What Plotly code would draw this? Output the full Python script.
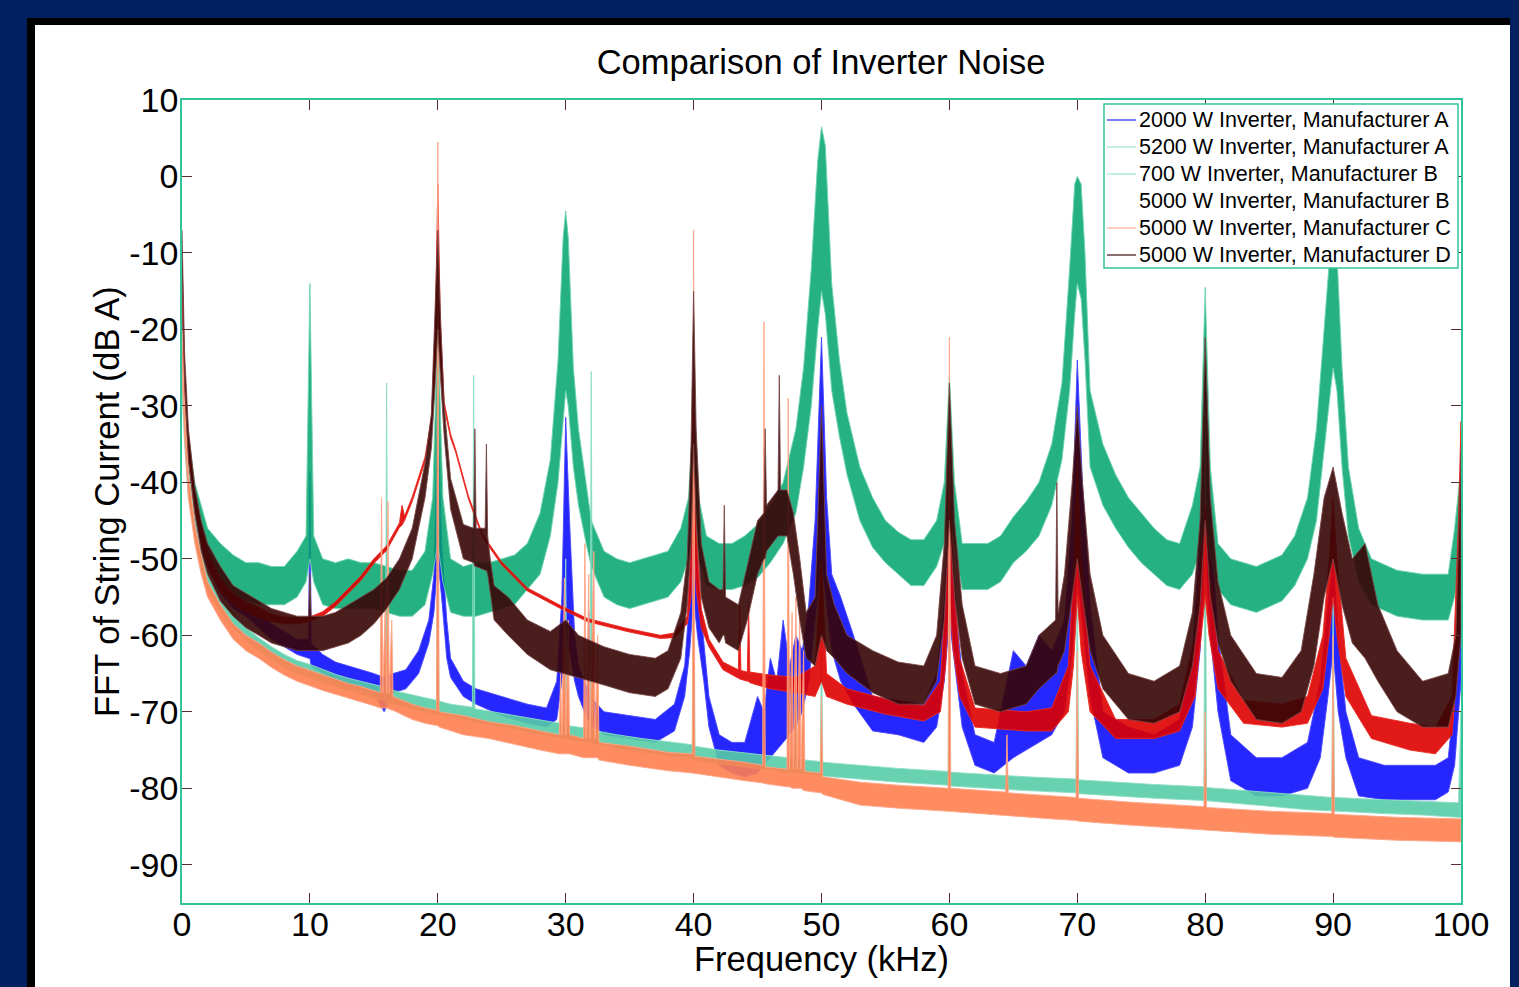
import plotly.graph_objects as go

# ---------------- data ----------------
# each series: (frequency kHz, lower edge of the noise band dB, upper edge dB)
blue_2000A = [
    (0.0, -22, -18), (0.2, -32, -28), (0.5, -39, -36), (1.0, -45, -43), (1.5, -48.5, -46.5),
    (2.0, -51, -49), (3.0, -54.5, -52.5), (4.0, -56.5, -54.5), (5.0, -57.5, -55.5), (6.0, -59, -57),
    (7.0, -60.5, -58.5), (8.0, -61.5, -59.5), (9.0, -62.5, -60.5), (9.9, -63, -60.5), (10.0, -63, -38.5),
    (10.1, -64, -61), (11.0, -65, -62.5), (12.0, -66, -63.5), (13.0, -66.5, -64), (14.0, -67, -64.5),
    (15.0, -67.5, -65), (15.8, -70, -65.5), (16.5, -67.5, -65), (17.5, -67, -64.5), (18.5, -65, -62),
    (19.3, -61, -58), (19.7, -57, -52), (20.0, -50, -31), (20.3, -55, -48), (20.7, -63, -58),
    (21.0, -65.5, -63), (22.0, -68, -66), (23.0, -69, -67), (25.0, -70.5, -68), (27.0, -71.5, -69),
    (28.5, -72, -69.5), (29.3, -71, -66), (29.7, -66, -55), (30.0, -60, -31.5), (30.3, -62, -45),
    (30.7, -66, -60), (31.0, -68, -64), (31.7, -71, -67), (31.8, -71, -57), (31.9, -71.5, -68),
    (33.0, -73, -70), (35.0, -73.5, -70.5), (37.0, -74, -71), (38.5, -72.5, -69), (39.3, -68, -64),
    (39.7, -62, -55), (40.0, -55, -36), (40.3, -60, -52), (40.8, -66, -61), (41.2, -72, -68),
    (42.0, -77, -73), (43.0, -78, -74), (44.0, -78.5, -74), (45.0, -78, -68), (45.5, -77, -70),
    (46.0, -76, -63), (46.5, -75, -66), (47.0, -74, -58), (47.5, -73, -64), (48.0, -72, -60),
    (48.5, -70, -62), (49.0, -66, -56), (49.5, -58, -45), (50.0, -50, -21), (50.4, -56, -42),
    (50.8, -62, -52), (51.5, -66, -55), (52.5, -69, -60), (54.0, -72.5, -68), (56.0, -73, -68.5),
    (58.0, -74, -69), (59.0, -72, -65), (59.6, -66, -56), (60.0, -58, -42), (60.4, -64, -55),
    (61.0, -72, -65), (62.0, -77, -73), (63.5, -78, -74), (65.0, -76, -62), (66.0, -75, -64),
    (67.0, -74, -60), (68.0, -73, -62), (69.0, -70, -58), (69.6, -62, -45), (70.0, -52, -24),
    (70.4, -58, -40), (71.0, -68, -56), (72.0, -76, -70), (74.0, -78, -72), (76.0, -78, -73),
    (78.0, -77, -71), (79.0, -72, -62), (79.6, -62, -48), (80.0, -50, -25), (80.4, -60, -45),
    (81.0, -70, -60), (82.0, -79, -73), (84.0, -81, -76), (86.0, -81, -76), (88.0, -80, -74),
    (89.0, -76, -66), (89.6, -68, -56), (90.0, -62, -50), (90.4, -70, -60), (91.0, -76, -70),
    (92.0, -81, -76), (94.0, -81.5, -77), (96.0, -81.5, -77), (98.0, -81.5, -77), (99.0, -80.5, -76),
    (99.5, -77, -68), (100.0, -66, -56),
]

green_5200A = [
    (0.0, -20, -14), (0.2, -30, -26), (0.5, -39, -34), (1.0, -44, -40), (1.5, -47, -43),
    (2.0, -50, -46), (3.0, -53, -48), (4.0, -54.5, -49.5), (5.0, -55.5, -50.5), (6.0, -56, -50.5),
    (7.0, -56, -51), (8.0, -56, -51), (9.0, -55, -49), (9.7, -53, -47), (10.0, -50, -14),
    (10.3, -53, -47), (11.0, -56, -50), (12.0, -56.5, -50.5), (13.0, -56.5, -50), (14.0, -56.5, -50.5),
    (15.0, -56.5, -50.5), (16.0, -57, -51), (17.0, -57.5, -51.5), (18.0, -57.5, -51.5), (19.0, -56, -49),
    (19.6, -52, -42), (20.0, -48, -19), (20.4, -53, -42), (21.0, -57, -50), (22.0, -57.5, -51),
    (23.0, -57.5, -50.5), (24.0, -57, -50.5), (25.0, -56.5, -50), (26.0, -56, -49.5), (27.0, -54, -48),
    (28.0, -52, -44), (28.8, -47, -37), (29.4, -40, -24), (29.8, -32, -8), (30.0, -28, -4.5),
    (30.2, -30, -8), (30.6, -38, -25), (31.0, -43, -33), (31.6, -48, -40), (32.0, -51, -45),
    (33.0, -55, -49), (34.0, -56, -50), (35.0, -56.5, -50.5), (36.0, -56, -50), (37.0, -55.5, -49.5),
    (38.0, -55, -49), (39.0, -53, -46), (39.6, -50, -42), (40.0, -47, -30), (40.4, -50, -42),
    (41.0, -53.5, -47), (42.0, -54, -48), (43.0, -54, -48), (44.0, -53.5, -47), (45.0, -52.5, -45.5),
    (46.0, -50.5, -43), (47.0, -48, -40), (48.0, -44, -33), (48.6, -38, -25), (49.2, -30, -12),
    (49.7, -20, 2), (50.0, -15, 6.5), (50.3, -18, 4), (50.8, -28, -14), (51.4, -34, -24),
    (52.0, -39, -31), (53.0, -45, -38), (54.0, -48.5, -42), (55.0, -50.5, -45), (56.0, -52, -46.5),
    (57.0, -53.5, -47.5), (58.0, -53.5, -47.5), (59.0, -51, -45), (59.6, -48, -40), (60.0, -44, -26),
    (60.4, -48, -40), (61.0, -54, -48), (62.0, -54, -48), (63.0, -54, -48), (64.0, -53, -47),
    (65.0, -50.5, -44.5), (66.0, -49, -42.5), (67.0, -47, -40), (68.0, -43, -35), (68.8, -37, -27),
    (69.4, -28, -12), (69.8, -18, -1), (70.0, -14, 0), (70.3, -16, -1), (70.6, -24, -10),
    (71.0, -38, -28), (72.0, -43, -35), (73.0, -46, -39), (74.0, -48.5, -42), (75.0, -50.5, -44),
    (76.0, -52, -46), (77.0, -53.5, -47.5), (78.0, -54, -48), (79.0, -52, -43), (79.6, -49, -38),
    (80.0, -45, -14.5), (80.4, -49, -38), (81.0, -54, -48), (82.0, -56, -50), (84.0, -57, -51),
    (86.0, -55.5, -49.5), (87.0, -53.5, -47), (88.0, -50, -42), (88.7, -45, -33), (89.3, -36, -20),
    (89.8, -28, -9), (90.0, -25, -8), (90.3, -28, -10), (90.7, -38, -25), (91.2, -47, -38),
    (92.0, -53, -46), (93.0, -56, -50), (95.0, -57.5, -51.5), (97.0, -58, -52), (99.0, -58, -52),
    (99.5, -55, -46), (100.0, -50, -38),
]

aqua_700B = [
    (0.0, -28, -24), (0.2, -35, -31), (0.5, -42, -38), (1.0, -47, -44.5), (1.5, -51, -48.5),
    (2.0, -54, -52), (3.0, -57, -55), (4.0, -59, -57), (5.0, -60.8, -59), (6.0, -62, -60.3),
    (7.0, -63.2, -61.5), (8.0, -64.2, -62.5), (9.0, -65, -63.3), (10.0, -65.6, -63.8), (11.0, -66.2, -64.5),
    (12.0, -66.8, -65.1), (13.0, -67.3, -65.6), (14.0, -67.7, -66), (15.0, -68.2, -66.4), (15.9, -68.6, -66.8),
    (16.0, -69, -27), (16.1, -68.8, -67), (17.0, -69.2, -67.4), (18.0, -69.6, -67.8), (19.0, -70, -68.2),
    (19.9, -70.3, -68.5), (20.0, -70.4, -50), (20.1, -70.4, -68.6), (21.0, -70.7, -69), (22.7, -71.2, -69.4),
    (22.8, -71.3, -26), (22.9, -71.4, -69.6), (25.0, -72, -70.2), (27.0, -72.6, -70.8), (29.9, -73.5, -71.6),
    (30.0, -73.6, -50), (30.1, -73.7, -71.8), (31.9, -74, -72.2), (32.0, -74.1, -25.5), (32.1, -74.2, -72.4),
    (34.0, -74.7, -73), (36.0, -75.3, -73.5), (39.9, -76.1, -74.3), (40.0, -76.2, -55), (40.1, -76.3, -74.5),
    (42.0, -76.8, -75), (44.0, -77.2, -75.4), (46.0, -77.6, -75.8), (47.9, -78, -76.1), (48.0, -78, -65),
    (48.1, -78, -76.2), (49.9, -78.3, -76.5), (50.0, -78.3, -60), (50.1, -78.4, -76.6), (53.0, -78.8, -77),
    (56.0, -79.2, -77.4), (59.9, -79.6, -77.8), (60.0, -79.6, -50), (60.1, -79.7, -77.9), (63.0, -80, -78.2),
    (66.0, -80.3, -78.5), (69.9, -80.6, -78.8), (70.0, -80.6, -50), (70.1, -80.7, -78.9), (73.0, -81, -79.2),
    (76.0, -81.3, -79.5), (79.9, -81.6, -79.8), (80.0, -81.6, -30), (80.1, -81.7, -79.9), (84.0, -82.2, -80.4),
    (88.0, -82.8, -81), (89.9, -83, -81.2), (90.0, -83, -55), (90.1, -83, -81.2), (94.0, -83.3, -81.5),
    (97.0, -83.5, -81.7), (99.8, -83.8, -81.9), (100.0, -83.8, -70),
]

red_5000B = [
    (0.0, -15, -11), (0.2, -28, -25), (0.5, -37, -34), (1.0, -44, -42), (1.5, -48, -46),
    (2.0, -51, -49), (3.0, -54.3, -52.7), (4.0, -56, -54.5), (5.0, -57, -55.6), (6.0, -57.7, -56.3),
    (7.0, -58.2, -57.2), (8.0, -58.5, -57.6), (9.0, -58.5, -57.7), (10.0, -58.2, -57.6), (11.0, -57.5, -56.9),
    (12.0, -56.2, -55.6), (13.0, -54.5, -53.9), (14.0, -52.8, -52.2), (15.0, -50.6, -50), (16.0, -48.9, -48.3),
    (17.0, -45.9, -45.3), (17.2, -45.6, -43), (17.4, -45, -44.4), (18.0, -42.5, -41.9), (19.0, -37.3, -36.7),
    (19.5, -32.2, -31.6), (19.8, -25, -20), (20.0, -15, -1), (20.2, -24, -19), (20.5, -30.2, -29.5),
    (21.0, -34.2, -33.7), (21.4, -36.1, -35.7), (22.4, -42.2, -41.8), (23.5, -47.2, -46.8), (25.0, -50.8, -50.4),
    (27.0, -54.2, -53.8), (29.6, -56.5, -56.1), (31.7, -58.2, -57.8), (34.8, -59.5, -59.1), (37.4, -60.4, -60),
    (38.5, -60.3, -59.7), (39.5, -58.5, -57.5), (39.8, -55, -48), (40.0, -45, -26), (40.2, -54, -46),
    (40.6, -59, -56.5), (41.2, -61.5, -60.5), (42.3, -64.5, -63.5), (43.5, -65.6, -64.5), (43.6, -65.7, -56),
    (43.7, -65.8, -64.6), (44.2, -66, -64.8), (44.3, -66, -56), (44.4, -66.2, -64.8), (46.0, -67, -65.2),
    (48.0, -67.5, -65.5), (49.5, -68, -64), (50.0, -66, -50), (50.4, -68, -65), (52.0, -69, -67),
    (55.0, -70.3, -68.3), (58.0, -71.2, -69.2), (59.3, -70, -66), (59.7, -64, -55), (60.0, -55, -40),
    (60.3, -62, -52), (60.8, -68, -63), (62.0, -72, -69.5), (66.0, -72.5, -70), (68.0, -72.5, -69.5),
    (69.3, -70, -64), (69.7, -64, -52), (70.0, -55, -36), (70.3, -62, -50), (71.0, -70, -64),
    (73.0, -73.5, -71), (76.0, -73.5, -71), (78.0, -72.5, -69), (79.2, -68, -60), (79.7, -60, -50),
    (80.0, -55, -43), (80.3, -60, -50), (81.0, -67, -62), (83.0, -71.5, -68.5), (86.0, -72, -69),
    (88.0, -71.5, -68), (89.2, -67, -60), (89.7, -60, -50), (90.0, -55, -42), (90.3, -60, -50),
    (91.0, -68, -63), (93.0, -73.5, -70.5), (96.0, -75, -71.5), (98.0, -75.5, -72), (99.3, -73, -68),
    (99.8, -62, -45), (100.0, -50, -32),
]

coral_5000C = [
    (0.0, -25, -20), (0.2, -34, -30), (0.5, -42, -39), (1.0, -48, -45.5), (1.5, -52, -49.5),
    (2.0, -55, -53), (3.0, -58, -56), (4.0, -60.5, -58.5), (5.0, -62, -60), (6.0, -63, -61),
    (7.0, -64.2, -62.2), (8.0, -65.2, -63.2), (9.0, -66, -64), (10.0, -66.6, -64.6), (11.0, -67.2, -65.2),
    (12.0, -67.8, -65.8), (13.0, -68.3, -66.3), (14.0, -68.7, -66.7), (15.0, -69.2, -67.2), (15.5, -69.5, -67.5),
    (15.6, -69.5, -42), (15.7, -69.5, -67.5), (15.9, -69.5, -55), (16.0, -69.5, -67.6), (16.1, -69.6, -42.5),
    (16.2, -69.6, -67.6), (16.4, -69.8, -58), (16.5, -69.8, -68), (18.0, -71, -69), (19.0, -71.5, -69.5),
    (19.9, -71.8, -69.8), (20.0, -71.8, 4.5), (20.1, -72, -70), (22.0, -73, -70.5), (24.0, -73.5, -71.3),
    (26.0, -74.2, -71.8), (28.0, -75, -72.5), (29.5, -75.5, -73), (29.6, -75.5, -65), (29.7, -75.5, -73),
    (29.9, -75.5, -52.5), (30.0, -75.5, -73), (30.2, -75.5, -58), (30.3, -75.5, -73), (31.4, -76, -73.5),
    (31.5, -76, -48), (31.6, -76, -73.5), (31.8, -76, -52), (31.9, -76, -73.5), (32.2, -76, -49),
    (32.3, -76, -73.5), (32.5, -76, -60), (32.6, -76.3, -74), (35.0, -77, -74.5), (38.0, -77.7, -75.3),
    (39.9, -78, -75.5), (40.0, -78, -7), (40.1, -78, -75.8), (42.0, -78.5, -76.2), (44.0, -79, -76.6),
    (45.4, -79.3, -77), (45.5, -79.3, -19), (45.6, -79.4, -77.2), (47.3, -79.8, -77.5), (47.4, -79.8, -29),
    (47.5, -79.8, -77.5), (47.7, -80, -57), (47.8, -80, -77.5), (48.0, -80, -55), (48.1, -80, -77.5),
    (48.3, -80, -57), (48.4, -80, -77.5), (48.6, -80.3, -62), (48.7, -80.3, -77.8), (49.9, -80.6, -78),
    (50.0, -80.6, -68), (50.1, -80.8, -78.5), (53.0, -82.2, -79.2), (56.0, -82.6, -79.6), (59.9, -83, -80),
    (60.0, -83, -21), (60.1, -83, -80), (64.4, -83.5, -80.5), (64.5, -83.5, -73), (64.6, -83.6, -80.6),
    (68.0, -84, -81), (69.9, -84.2, -81.2), (70.0, -84.2, -62), (70.1, -84.3, -81.3), (74.0, -84.8, -81.8),
    (78.0, -85.2, -82.2), (79.9, -85.4, -82.4), (80.0, -85.4, -70), (80.1, -85.5, -82.5), (85.0, -86, -83),
    (89.9, -86.3, -83.3), (90.0, -86.3, -60), (90.1, -86.4, -83.4), (95.0, -86.8, -83.8), (100.0, -87, -84),
]

brown_5000D = [
    (0.0, -12, -7), (0.2, -27, -23), (0.5, -37, -33), (1.0, -44, -40.5), (1.5, -49, -45),
    (2.0, -52, -48), (3.0, -55.5, -51), (4.0, -57.5, -53.5), (5.0, -59, -54.5), (6.0, -60, -55.5),
    (7.0, -61, -56.5), (8.0, -61.5, -57), (9.0, -62, -57.5), (9.9, -62, -57.5), (10.0, -62, -52),
    (10.1, -62, -57.5), (11.0, -62, -57.5), (12.0, -61.5, -57), (13.0, -61, -56), (14.0, -60, -55),
    (15.0, -58.5, -54), (16.0, -56.5, -52.5), (17.0, -54, -50), (18.0, -50, -46), (19.0, -42, -37.5),
    (19.5, -35.5, -31), (19.8, -27, -18), (20.0, -20, -7), (20.2, -26, -18), (20.5, -34, -30),
    (21.0, -43.5, -39.5), (22.0, -50, -45.5), (22.8, -50.5, -46), (22.9, -51, -33), (23.0, -51, -46),
    (23.7, -51.5, -46), (23.8, -51.5, -35), (23.9, -52, -47), (24.1, -54, -50), (24.4, -58, -53.5),
    (25.5, -60, -55), (27.0, -62.5, -58), (28.8, -64.5, -59.5), (30.0, -65, -58), (31.0, -65.5, -60),
    (33.0, -66.5, -61.5), (35.0, -67.5, -62.5), (37.0, -68, -63), (38.0, -67, -62), (39.0, -63, -57),
    (39.5, -56, -50), (39.8, -48, -35), (40.0, -35, -15), (40.2, -45, -33), (40.6, -55, -48),
    (41.2, -59, -53), (42.0, -61, -54), (42.3, -60, -54), (42.4, -60, -43), (42.5, -61, -55),
    (43.5, -62, -56), (44.2, -58, -51), (45.0, -52, -45), (45.5, -50, -44), (45.6, -50, -33),
    (45.7, -49, -43), (46.6, -47, -41), (46.7, -47, -26), (46.8, -47, -41), (47.3, -47, -41),
    (47.8, -52, -44), (48.3, -58, -50), (48.8, -63, -57), (49.5, -64, -55), (50.0, -60, -30),
    (50.4, -62, -52), (51.0, -63, -56), (52.0, -65, -60), (54.0, -67.5, -62), (56.0, -69, -63.5),
    (58.0, -69, -64), (59.0, -66, -60), (59.6, -58, -48), (60.0, -45, -27), (60.4, -55, -45),
    (61.0, -63, -56), (62.0, -69, -64), (64.0, -70, -65), (66.0, -69, -64), (67.0, -67, -60),
    (68.3, -65, -58), (68.4, -65, -40), (68.5, -64, -57), (69.0, -62, -52), (69.6, -55, -40),
    (70.0, -50, -30), (70.4, -55, -40), (71.0, -62, -52), (72.0, -67, -60), (74.0, -71, -65),
    (76.0, -71.5, -66), (78.0, -70, -64), (79.0, -64, -57), (79.6, -56, -45), (80.0, -45, -21),
    (80.4, -55, -42), (81.0, -61, -53), (82.0, -66, -60), (84.0, -71, -65), (86.0, -71.5, -65.5),
    (87.5, -70, -62), (88.5, -64, -52), (89.3, -55, -42), (90.0, -50, -38), (90.7, -56, -44),
    (91.5, -61, -50), (92.5, -63, -48), (93.5, -66, -56), (95.0, -70, -62), (97.0, -72, -66),
    (99.0, -72, -65), (99.6, -68, -60), (100.0, -60, -36),
]

legend_names = [
    "2000 W Inverter, Manufacturer A",
    "5200 W Inverter, Manufacturer A",
    "700 W Inverter, Manufacturer B",
    "5000 W Inverter, Manufacturer B",
    "5000 W Inverter, Manufacturer C",
    "5000 W Inverter, Manufacturer D",
]
x_ticks = [0, 10, 20, 30, 40, 50, 60, 70, 80, 90, 100]
y_ticks = [-90, -80, -70, -60, -50, -40, -30, -20, -10, 0, 10]
y_tick_text = ["-90", "-80", "-70", "-60", "-50", "-40", "-30", "-20", "-10", "0", "10"]

# ---------------- styling ----------------
series = [
    (blue_2000A, "rgba(0,0,255,0.85)", "rgba(70,70,255,0.9)"),
    (green_5200A, "rgba(0,163,108,0.85)", "rgba(110,212,172,0.9)"),
    (aqua_700B, "rgba(88,204,166,0.9)", "rgba(140,222,196,0.9)"),
    (red_5000B, "rgba(222,0,0,0.9)", "rgba(235,40,30,0.9)"),
    (coral_5000C, "rgba(255,127,80,0.9)", "rgba(255,165,135,0.9)"),
    (brown_5000D, "rgba(55,5,5,0.9)", "rgba(120,70,70,0.85)"),
]
legend_colors = ["#3535FF", "#A3E6CD", "#A3E6CD", None, "#FFB49C", "#4A2222"]

FONT = "Liberation Sans, Arial, sans-serif"
AXIS_GREEN = "#33C399"
TICK_BROWN = "#5A2E2E"
W, H = 1519, 987
L, R, T, B = 182, 1461, 100, 903


def px_x(px):
    return (px - L) / (R - L)


def px_y(py):
    return (B - py) / (B - T)


fig = go.Figure()

for pts, fillc, edgec in series:
    f = [p[0] for p in pts]
    lo = [p[1] for p in pts]
    hi = [p[2] for p in pts]
    fig.add_trace(go.Scatter(
        x=f + f[::-1], y=hi + lo[::-1], mode="lines", fill="toself",
        fillcolor=fillc, line=dict(color=edgec, width=1),
        showlegend=False, hoverinfo="skip",
    ))

shapes = [
    # navy slide with black-edged white panel
    dict(type="rect", xref="paper", yref="paper", layer="below",
         x0=px_x(27), x1=px_x(1510), y0=px_y(H + 5), y1=px_y(18),
         fillcolor="black", line=dict(width=0)),
    dict(type="rect", xref="paper", yref="paper", layer="below",
         x0=px_x(35), x1=px_x(1510), y0=px_y(H + 5), y1=px_y(25),
         fillcolor="white", line=dict(width=0)),
    # legend box
    dict(type="rect", xref="paper", yref="paper", layer="above",
         x0=px_x(1104), x1=px_x(1458), y0=px_y(268), y1=px_y(104),
         fillcolor="white", line=dict(color=AXIS_GREEN, width=1.5)),
]
annotations = []
for i, (name, col) in enumerate(zip(legend_names, legend_colors)):
    yy = px_y(120 + 27 * i)
    if col is not None:
        shapes.append(dict(type="line", xref="paper", yref="paper", layer="above",
                           x0=px_x(1107), x1=px_x(1136), y0=yy, y1=yy,
                           line=dict(color=col, width=1.3)))
    annotations.append(dict(text=name, xref="paper", yref="paper", x=px_x(1137), y=yy,
                            xanchor="left", yanchor="middle", showarrow=False,
                            font=dict(size=21.5, family=FONT, color="black")))

annotations.append(dict(text="Frequency (kHz)", xref="paper", yref="paper",
                        x=px_x(821), y=px_y(959), xanchor="center", yanchor="middle",
                        showarrow=False, font=dict(size=34.5, family=FONT, color="black")))
annotations.append(dict(text="FFT of String Current (dB A)", xref="paper", yref="paper",
                        x=px_x(107), y=px_y(502), xanchor="center", yanchor="middle",
                        textangle=-90, showarrow=False,
                        font=dict(size=34.5, family=FONT, color="black")))

fig.update_layout(
    width=W, height=H,
    margin=dict(l=L, r=W - R, t=T, b=H - B),
    paper_bgcolor="#002060",
    plot_bgcolor="white",
    font=dict(family=FONT, color="black", size=30),
    title=dict(text="Comparison of Inverter Noise", x=px_x(821), xref="paper",
               xanchor="center", y=1 - 62 / H, yanchor="middle",
               font=dict(size=34.5, family=FONT, color="black")),
    showlegend=False,
    shapes=shapes,
    annotations=annotations,
)

fig.update_xaxes(
    range=[0, 100], tickvals=x_ticks, ticks="inside", ticklen=10, tickwidth=1,
    tickcolor=TICK_BROWN, showline=True, linecolor=AXIS_GREEN, linewidth=1.5,
    mirror="ticks", showgrid=False, zeroline=False, ticklabelstandoff=-10,
    tickfont=dict(size=34, family=FONT, color="black"),
)
fig.update_yaxes(
    range=[-95, 10], tickvals=y_ticks, ticktext=y_tick_text, ticks="inside", ticklen=10,
    tickwidth=1, tickcolor=TICK_BROWN, showline=True, linecolor=AXIS_GREEN, linewidth=1.5,
    mirror="ticks", showgrid=False, zeroline=False, ticklabelstandoff=-5,
    tickfont=dict(size=34, family=FONT, color="black"),
)

fig.write_html(
    "out.html",
    config={"displayModeBar": False},
    post_script="document.body.style.margin='0px';document.body.style.overflow='hidden';"
                "document.body.style.background='#002060';",
)
